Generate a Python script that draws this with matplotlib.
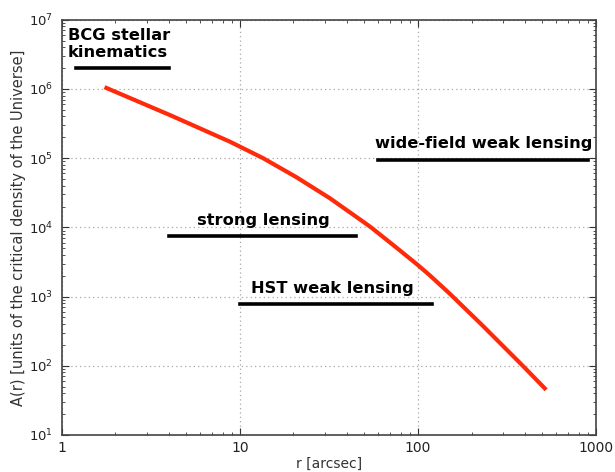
import numpy as np
import matplotlib
matplotlib.use('Agg')
from matplotlib import pyplot as plt
from matplotlib.ticker import FixedLocator, FixedFormatter, LogFormatterSciNotation, NullFormatter


# A(r) profile
r_curve = [1.74, 4.13, 8.79, 13.5, 20.8, 32.0, 49.2, 54.8, 75.7, 100, 116, 151, 231, 388, 525]
A_curve = [1.06e6, 4.1e5, 1.73e5, 1.0e5, 5.3e4, 2.64e4, 1.21e4, 9.9e3, 5.1e3, 2.85e3, 2.05e3,
           1.1e3, 380, 100, 45]

# radial ranges probed by each method
probe_names = ['BCG stellar\nkinematics', 'strong lensing', 'HST weak lensing', 'wide-field weak lensing']
probe_rmin  = [1.2, 4.0, 10.0, 60.0]
probe_rmax  = [4.0, 45.0, 120.0, 900.0]
probe_level = [2.0e6, 7.4e3, 7.9e2, 9.4e4]

x_ticks = [1, 10, 100, 1000]
x_ticklabels = ['1', '10', '100', '1000']
y_ticks = [1e1, 1e2, 1e3, 1e4, 1e5, 1e6, 1e7]


fig = plt.figure(figsize=(6.15, 4.72), dpi=100)
fig.patch.set_facecolor('white')
ax = fig.add_axes([0.1003, 0.0784, 0.8688, 0.8799])

ax.plot(r_curve, A_curve, color='#ff2a0a', lw=3.0, solid_capstyle='butt',
        solid_joinstyle='round', zorder=3)

for name, r0, r1, lev in zip(probe_names, probe_rmin, probe_rmax, probe_level):
    ax.plot([r0, r1], [lev, lev], color='black', lw=2.6, zorder=3)

# labels above the bars
fs = 11.7
ax.text(1.085, 2.6e6, probe_names[0], fontsize=fs, fontweight='bold', ha='left', va='bottom',
        linespacing=1.15)
ax.text(13.6, 9.9e3, probe_names[1], fontsize=fs, fontweight='bold', ha='center', va='bottom')
ax.text(33.3, 1.03e3, probe_names[2], fontsize=fs, fontweight='bold', ha='center', va='bottom')
ax.text(235, 1.27e5, probe_names[3], fontsize=fs, fontweight='bold', ha='center', va='bottom')

ax.set_xscale('log')
ax.set_yscale('log')
ax.set_xlim(1, 1000)
ax.set_ylim(10, 1e7)

ax.xaxis.set_major_locator(FixedLocator(x_ticks))
ax.xaxis.set_major_formatter(FixedFormatter(x_ticklabels))
ax.xaxis.set_minor_formatter(NullFormatter())
ax.yaxis.set_major_locator(FixedLocator(y_ticks))
ax.yaxis.set_major_formatter(LogFormatterSciNotation())

ax.tick_params(which='both', direction='in', top=True, right=True, colors='#333333',
               labelcolor='#222222')
ax.tick_params(which='major', length=5, width=0.8)
ax.tick_params(which='minor', length=2.5, width=0.6)
ax.tick_params(axis='x', which='major', labelsize=10, pad=4)
ax.tick_params(axis='y', which='major', labelsize=9.5, pad=6)

ax.grid(True, which='major', ls=(0, (1, 2.5)), color='#a8a8a8', lw=0.9)
for s in ax.spines.values():
    s.set_color('#444444')
    s.set_linewidth(1.2)

ax.set_xlabel('r [arcsec]', fontsize=10, color='#333333', labelpad=2)
ax.set_ylabel('A(r) [units of the critical density of the Universe]', fontsize=10.5,
              color='#333333', labelpad=2.5)

fig.savefig('out.png', dpi=100, facecolor='white')
